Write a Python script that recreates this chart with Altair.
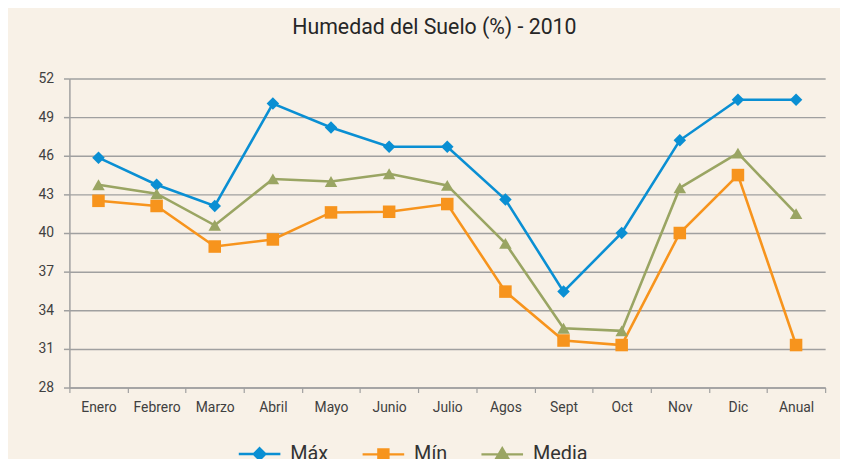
import altair as alt
import pandas as pd

months = ["Enero", "Febrero", "Marzo", "Abril", "Mayo", "Junio", "Julio",
          "Agos", "Sept", "Oct", "Nov", "Dic", "Anual"]
maximo = [45.85, 43.75, 42.1, 50.05, 48.2, 46.7, 46.7, 42.6, 35.45, 40.0, 47.2, 50.35, 50.35]
minimo = [42.5, 42.1, 38.95, 39.5, 41.6, 41.65, 42.25, 35.45, 31.65, 31.3, 40.0, 44.5, 31.3]
media = [43.75, 43.05, 40.6, 44.2, 44.0, 44.6, 43.7, 39.2, 32.6, 32.4, 43.5, 46.2, 41.5]
series = ["Máx", "Mín", "Media"]
colors = ["#0A8FD3", "#F7941D", "#9AA563"]
shapes = ["diamond", "square", "triangle-up"]
legend_paths = [
    "M-4.2,0H4.2M0,-1.15L1.15,0L0,1.15L-1.15,0Z",
    "M-4.2,0H4.2M-1,-1H1V1H-1Z",
    "M-4.2,0H4.2M0,-1.2L1.3,1L-1.3,1Z",
]
y_ticks = [28, 31, 34, 37, 40, 43, 46, 49, 52]

rows = []
for name, vals in zip(series, [maximo, minimo, media]):
    for m, v in zip(months, vals):
        rows.append({"mes": m, "valor": v, "serie": name})
df = pd.DataFrame(rows)

x = alt.X("mes:N", sort=months, bandPosition=0.5,
          scale=alt.Scale(type="band", domain=months, paddingInner=0, paddingOuter=0),
          axis=alt.Axis(title=None, tickBand="extent", grid=False, domain=True,
                        domainColor="#A0A0A0", domainWidth=1.5, tickColor="#A0A0A0",
                        tickWidth=1.2, tickSize=5, labelAngle=0, labelFontSize=14,
                        labelPadding=8, labelColor="#404040", labelFont="Roboto"))
y = alt.Y("valor:Q", scale=alt.Scale(domain=[28, 52], nice=False, zero=False),
          axis=alt.Axis(title=None, values=y_ticks, grid=True, gridColor="#A0A0A0",
                        gridWidth=1.5, domain=True, domainColor="#A0A0A0", domainWidth=1.5,
                        tickColor="#A0A0A0", tickWidth=1.5, tickSize=6, labelPadding=10,
                        labelFontSize=14, labelColor="#404040", labelFont="Roboto"))

col_scale = alt.Scale(domain=series, range=colors)

lines = alt.Chart(df).mark_line(strokeWidth=2.6).encode(
    x=x, y=y,
    color=alt.Color("serie:N", scale=col_scale, legend=None),
    detail="serie:N",
)

points = alt.Chart(df).mark_point(filled=True, opacity=1, size=160).encode(
    x=x, y=y,
    fill=alt.Fill("serie:N", scale=col_scale, legend=None),
    shape=alt.Shape("serie:N", scale=alt.Scale(domain=series, range=shapes), legend=None),
)


def leg():
    return alt.Legend(title=None, orient="none", direction="horizontal",
                      legendX=182, legendY=369, padding=0,
                      labelFontSize=20, labelFont="Roboto",
                      labelColor="#333333", symbolSize=100,
                      symbolStrokeWidth=2.5, labelOffset=21,
                      columnPadding=29)


legend_layer = alt.Chart(df).transform_filter("false").mark_point(
    filled=True, opacity=1).encode(
    x=x, y=y,
    fill=alt.Fill("serie:N", scale=col_scale, legend=leg()),
    stroke=alt.Stroke("serie:N", scale=col_scale, legend=leg()),
    shape=alt.Shape("serie:N", scale=alt.Scale(domain=series, range=legend_paths),
                    legend=leg()),
)

chart = alt.layer(lines, points, legend_layer).resolve_scale(
    fill="independent", shape="independent", stroke="independent"
).properties(
    width=763, height=312,
    autosize=alt.AutoSizeParams(type="none"),
    padding={"left": 62, "top": 69, "right": 15, "bottom": 72},
    background="#F8F1E7",
    title=alt.TitleParams("Humedad del Suelo (%) - 2010", fontSize=21.5, font="Roboto",
                          fontWeight="normal", color="#262626", anchor="middle",
                          dx=-13, offset=33),
).configure_view(stroke=None)

chart.save("out.html", embed_options={"renderer": "svg", "actions": False})
